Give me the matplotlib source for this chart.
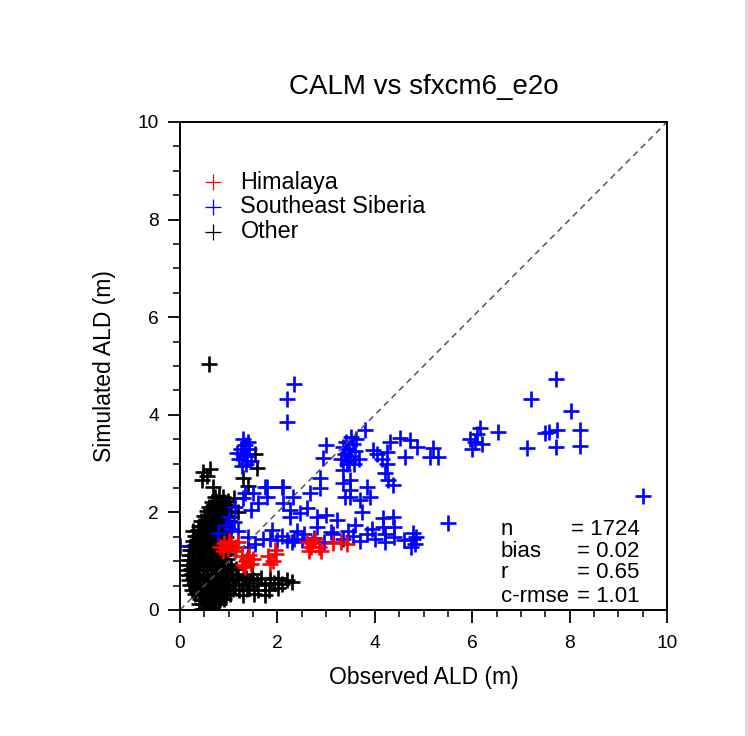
import matplotlib
matplotlib.use("Agg")
import matplotlib.pyplot as plt
from matplotlib.ticker import MultipleLocator

plt.rcParams['font.family'] = ['Liberation Sans', 'DejaVu Sans']

title = "CALM vs sfxcm6_e2o"
xlabel = "Observed ALD (m)"
ylabel = "Simulated ALD (m)"
group_names = ["Himalaya", "Southeast Siberia", "Other"]
group_colors = ["red", "blue", "black"]
stat_names = ["n", "bias", "r", "c-rmse"]
stat_values = ["1724", "0.02", "0.65", "1.01"]
x_ticks = [0, 2, 4, 6, 8, 10]
y_ticks = [0, 2, 4, 6, 8, 10]

# Other (black) points: (observed, simulated)
other_pts = [
    (0.45, 0.02), (0.52, 0.03), (0.6, 0.01), (0.66, 0.04),
    (0.4, 0.12), (0.48, 0.13), (0.56, 0.11), (0.64, 0.12), (0.72, 0.14), (0.8, 0.12),
    (0.42, 0.22), (0.5, 0.21), (0.58, 0.23), (0.66, 0.22), (0.74, 0.2), (0.82, 0.23), (0.9, 0.22),
    (0.3, 0.32), (0.38, 0.33), (0.46, 0.31), (0.54, 0.32), (0.62, 0.34), (0.7, 0.31), (0.78, 0.32),
    (0.86, 0.33), (0.94, 0.3), (1.02, 0.32), (1.3, 0.3), (1.52, 0.33), (1.75, 0.31),
    (0.25, 0.42), (0.33, 0.43), (0.41, 0.41), (0.49, 0.42), (0.57, 0.44), (0.65, 0.41), (0.73, 0.42),
    (0.81, 0.43), (0.89, 0.4), (0.97, 0.42), (1.08, 0.43), (1.22, 0.41), (1.38, 0.44), (1.6, 0.4),
    (1.82, 0.42), (2.02, 0.45),
    (0.2, 0.52), (0.28, 0.53), (0.36, 0.51), (0.44, 0.52), (0.52, 0.54), (0.6, 0.51), (0.68, 0.52),
    (0.76, 0.53), (0.84, 0.5), (0.92, 0.52), (1.0, 0.54), (1.12, 0.51), (1.27, 0.53), (1.42, 0.5),
    (1.58, 0.55), (1.74, 0.52), (1.92, 0.56), (2.1, 0.53), (2.3, 0.58),
    (0.18, 0.62), (0.26, 0.63), (0.34, 0.61), (0.42, 0.62), (0.5, 0.64), (0.58, 0.61), (0.66, 0.62),
    (0.74, 0.63), (0.82, 0.6), (0.9, 0.62), (0.98, 0.64), (1.08, 0.61), (1.2, 0.63), (1.35, 0.66),
    (1.5, 0.62), (1.66, 0.65), (1.85, 0.63), (2.02, 0.66), (2.2, 0.62),
    (0.16, 0.72), (0.24, 0.73), (0.32, 0.71), (0.4, 0.72), (0.48, 0.74), (0.56, 0.71), (0.64, 0.72),
    (0.72, 0.73), (0.8, 0.7), (0.88, 0.72), (0.96, 0.74), (1.06, 0.71), (1.18, 0.73), (1.32, 0.7),
    (1.48, 0.74),
    (0.15, 0.82), (0.23, 0.83), (0.31, 0.81), (0.39, 0.82), (0.47, 0.84), (0.55, 0.81), (0.63, 0.82),
    (0.71, 0.83), (0.79, 0.8), (0.87, 0.82), (0.95, 0.84), (1.05, 0.81), (1.15, 0.83),
    (0.16, 0.92), (0.24, 0.93), (0.32, 0.91), (0.4, 0.92), (0.48, 0.94), (0.56, 0.91), (0.64, 0.92),
    (0.72, 0.93), (0.8, 0.9), (0.88, 0.92), (0.96, 0.94), (1.05, 0.91),
    (0.17, 1.02), (0.25, 1.03), (0.33, 1.01), (0.41, 1.02), (0.49, 1.04), (0.57, 1.01), (0.65, 1.02),
    (0.73, 1.03), (0.81, 1.0), (0.89, 1.02), (0.97, 1.04),
    (0.18, 1.12), (0.26, 1.13), (0.34, 1.11), (0.42, 1.12), (0.5, 1.14), (0.58, 1.11), (0.66, 1.12),
    (0.74, 1.13), (0.82, 1.1), (0.9, 1.12), (0.98, 1.14),
    (0.2, 1.22), (0.28, 1.23), (0.36, 1.21), (0.44, 1.22), (0.52, 1.24), (0.6, 1.21), (0.68, 1.22),
    (0.76, 1.23), (0.84, 1.2), (0.92, 1.22),
    (0.22, 1.32), (0.3, 1.33), (0.38, 1.31), (0.46, 1.32), (0.54, 1.34), (0.62, 1.31), (0.7, 1.32),
    (0.78, 1.33), (0.86, 1.3), (0.94, 1.32),
    (0.26, 1.42), (0.34, 1.43), (0.42, 1.41), (0.5, 1.42), (0.58, 1.44), (0.66, 1.41), (0.74, 1.42),
    (0.82, 1.43), (0.9, 1.4),
    (0.3, 1.52), (0.38, 1.53), (0.46, 1.51), (0.54, 1.52), (0.62, 1.54), (0.7, 1.51), (0.78, 1.52),
    (0.86, 1.53), (0.94, 1.5),
    (0.27, 1.62), (0.36, 1.63), (0.44, 1.61), (0.52, 1.62), (0.6, 1.64), (0.68, 1.61), (0.76, 1.62),
    (0.84, 1.63), (0.92, 1.6),
    (0.4, 1.72), (0.48, 1.73), (0.56, 1.71), (0.64, 1.72), (0.72, 1.74), (0.8, 1.71), (0.88, 1.72),
    (0.96, 1.73),
    (0.44, 1.82), (0.52, 1.83), (0.6, 1.81), (0.68, 1.82), (0.76, 1.84), (0.84, 1.81), (0.92, 1.82),
    (1.0, 1.83),
    (0.5, 1.92), (0.58, 1.93), (0.66, 1.91), (0.74, 1.92), (0.82, 1.94), (0.9, 1.91), (0.98, 1.92),
    (0.55, 2.02), (0.63, 2.03), (0.71, 2.01), (0.79, 2.02), (0.87, 2.04), (0.95, 2.01), (1.05, 2.02),
    (0.6, 2.12), (0.68, 2.13), (0.76, 2.11), (0.84, 2.12), (0.92, 2.14), (1.0, 2.11),
    (0.66, 2.22), (0.74, 2.23), (0.82, 2.21), (0.9, 2.22), (0.98, 2.24),
    (0.72, 2.32), (0.8, 2.33), (0.88, 2.31),
    (0.6, 5.04), (0.47, 2.83), (0.45, 2.66), (0.68, 2.52), (0.55, 2.75), (0.62, 2.88),
    (1.54, 3.2), (1.58, 2.9), (1.29, 2.7), (1.1, 2.3), (1.2, 2.0), (1.4, 2.55),
]

# Southeast Siberia (blue) points
siberia_pts = [
    (0.0, 1.32),
    (1.22, 3.1), (1.3, 3.2), (1.38, 3.15), (1.26, 3.3), (1.34, 3.38), (1.3, 3.5), (1.42, 3.3),
    (1.18, 3.22), (1.45, 3.05), (1.35, 3.0), (1.28, 2.95), (1.4, 3.45),
    (1.5, 2.4), (1.33, 2.4), (1.75, 2.52), (2.1, 2.52), (1.13, 2.11), (0.95, 1.75), (1.05, 1.65),
    (1.1, 1.8), (0.78, 1.58), (1.0, 1.9), (1.2, 1.62), (1.4, 1.5), (1.89, 1.64), (2.0, 1.43),
    (2.2, 1.43), (2.35, 1.45), (2.5, 1.43), (1.4, 1.3), (1.55, 1.35), (1.7, 1.45), (1.3, 2.3),
    (1.6, 2.2), (1.45, 2.05),
    (2.34, 4.63), (2.2, 4.32), (2.2, 3.85),
    (3.3, 3.1), (3.38, 3.2), (3.45, 3.3), (3.5, 3.15), (3.55, 3.4), (3.6, 3.25), (3.4, 3.45),
    (3.48, 3.05), (3.62, 3.5), (3.35, 3.35), (3.52, 3.55), (3.68, 3.1), (3.42, 3.0), (3.58, 3.0),
    (3.8, 3.69), (3.0, 3.38), (2.94, 3.11), (4.31, 3.44), (4.52, 3.52), (4.72, 3.48), (4.86, 3.34),
    (5.2, 3.32), (5.3, 3.14), (5.13, 3.14), (4.62, 3.14), (3.97, 3.28), (4.05, 3.2), (4.25, 3.24),
    (4.25, 3.0), (4.2, 2.8), (4.28, 2.66), (4.15, 3.1),
    (3.35, 2.87), (3.35, 2.6), (3.38, 2.32), (3.49, 2.66), (3.49, 2.45), (3.5, 2.32), (3.84, 2.52),
    (3.9, 2.32), (4.37, 2.56), (3.7, 2.25), (3.73, 2.0), (2.87, 2.7), (2.87, 2.5), (2.67, 2.4),
    (2.11, 2.52), (1.79, 2.52), (1.79, 2.32), (2.11, 2.19), (2.32, 2.32), (2.26, 2.05), (2.26, 1.91),
    (2.46, 1.99), (2.81, 1.91), (2.81, 1.7), (3.22, 1.84), (2.6, 2.1), (3.0, 1.95), (3.6, 1.75),
    (1.85, 1.45), (2.1, 1.52), (2.3, 1.4), (2.55, 1.55), (2.75, 1.48), (2.95, 1.4), (3.15, 1.55),
    (3.35, 1.45), (3.55, 1.52), (3.7, 1.42), (3.85, 1.56), (4.0, 1.45), (4.2, 1.4), (4.4, 1.5),
    (4.6, 1.44), (3.45, 1.62), (3.95, 1.65), (2.4, 1.62), (3.1, 1.6),
    (4.17, 1.88), (4.17, 1.7), (4.2, 1.55), (4.37, 1.91), (4.4, 1.7), (4.78, 1.58), (4.78, 1.45),
    (4.82, 1.35), (4.75, 1.29), (4.85, 1.5), (5.5, 1.78),
    (6.0, 3.3), (6.05, 3.45), (6.1, 3.6), (5.95, 3.5), (6.16, 3.73), (6.2, 3.4), (6.53, 3.65),
    (7.13, 3.32), (7.49, 3.63), (7.58, 3.65), (7.74, 3.69), (7.72, 3.34), (7.21, 4.32), (7.72, 4.73),
    (8.03, 4.08), (8.21, 3.69), (8.21, 3.36), (9.51, 2.34),
]

# Himalaya (red) points
himalaya_pts = [
    (0.82, 1.3), (0.9, 1.38), (0.98, 1.25), (1.05, 1.35), (1.12, 1.2), (1.2, 1.4), (0.88, 1.2),
    (1.0, 1.42), (1.15, 1.3),
    (1.28, 1.1), (1.35, 1.0), (1.42, 1.12), (1.3, 0.92), (1.45, 0.95), (1.38, 1.05), (1.5, 1.05),
    (1.33, 0.88),
    (1.8, 1.1), (1.9, 1.0), (1.98, 1.15), (1.85, 0.95), (1.95, 1.22),
    (2.6, 1.4), (2.7, 1.3), (2.78, 1.45), (2.65, 1.2), (2.85, 1.3), (2.72, 1.38), (2.9, 1.2),
    (3.15, 1.37), (3.3, 1.4), (3.42, 1.35),
]

other_x = [p[0] for p in other_pts]
other_y = [p[1] for p in other_pts]
sib_x = [p[0] for p in siberia_pts]
sib_y = [p[1] for p in siberia_pts]
him_x = [p[0] for p in himalaya_pts]
him_y = [p[1] for p in himalaya_pts]

fig = plt.figure(figsize=(7.48, 7.36), dpi=100)
ax = fig.add_axes([180 / 748, 1 - 610 / 736, 487 / 748, 488 / 736])

ms = 11
mew = 1.9
ax.plot(other_x, other_y, linestyle='none', marker='+', color=group_colors[2], ms=ms, mew=mew)
ax.plot(sib_x, sib_y, linestyle='none', marker='+', color=group_colors[1], ms=ms, mew=mew)
ax.plot(him_x, him_y, linestyle='none', marker='+', color=group_colors[0], ms=ms, mew=mew)

ax.plot([0, 10], [0, 10], color='#555555', lw=1.1, dashes=(4, 3))

ax.set_xlim(0, 10)
ax.set_ylim(0, 10)
ax.set_xticks(x_ticks)
ax.set_yticks(y_ticks)
ax.xaxis.set_minor_locator(MultipleLocator(0.5))
ax.yaxis.set_minor_locator(MultipleLocator(0.5))
ax.tick_params(which='major', direction='out', length=9, width=1.3, labelsize=13.8,
               top=False, right=False)
ax.tick_params(axis='x', which='major', pad=9)
ax.tick_params(axis='y', which='major', pad=6)
ax.tick_params(which='minor', direction='out', length=5, width=1.1, top=False, right=False)
for s in ax.spines.values():
    s.set_linewidth(1.4)

ax.set_title(title, fontsize=20, pad=20)
ax.set_xlabel(xlabel, fontsize=16.5, labelpad=10)
ax.set_ylabel(ylabel, fontsize=16.5, labelpad=16)

# legend (drawn manually, NCL style)
leg_y = [0.877, 0.826, 0.775]
for name, col, yy in zip(group_names, group_colors, leg_y):
    ax.plot([0.068], [yy], transform=ax.transAxes, marker='+', color=col, ms=11, mew=0.9,
            linestyle='none', clip_on=False)
    ax.text(0.124, yy, name, transform=ax.transAxes, fontsize=16.8, va='center', ha='left')

# statistics
stat_y = [0.164, 0.120, 0.076, 0.027]
for nm, val, yy in zip(stat_names, stat_values, stat_y):
    ax.text(0.659, yy, nm, transform=ax.transAxes, fontsize=16, va='center', ha='left')
    ax.text(0.944, yy, "= " + val, transform=ax.transAxes, fontsize=16, va='center', ha='right')

fig.add_artist(plt.Line2D([0.9975, 0.9975], [0, 1], transform=fig.transFigure,
                          color='#d8d8d8', lw=2))

fig.savefig("out.png", dpi=100)
